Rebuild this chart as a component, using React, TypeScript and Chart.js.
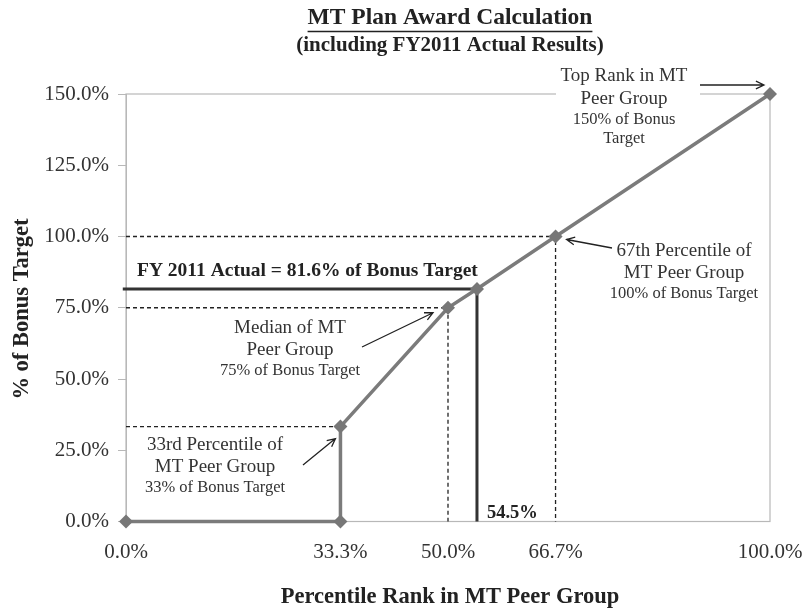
import React, { useEffect, useRef } from "react";
import { Chart, registerables } from "chart.js";

Chart.register(...registerables);

// ---- data ----
const percentileRank = [0, 33.3, 33.3, 50, 54.5, 66.7, 100];
const bonusPct = [0, 0, 33.3, 75, 81.6, 100, 150];
const xTickValues = [0, 33.3, 50, 66.7, 100];
const yTickValues = [0, 25, 50, 75, 100, 125, 150];
const actualRank = 54.5;
const actualPct = 81.6;
const medianRank = 50;
const medianPct = 75;
const p67Rank = 66.7;
const p67Pct = 100;
const p33Rank = 33.3;
const p33Pct = 33.3;

const titleText = "MT Plan Award Calculation";
const subtitleText = "(including FY2011 Actual Results)";
const yTitle = "% of Bonus Target";
const xTitle = "Percentile Rank in MT Peer Group";
const actualLabel = "FY 2011 Actual = 81.6% of Bonus Target";
const actualRankLabel = "54.5%";
const topLabel = ["Top Rank in MT", "Peer Group"];
const topSub = ["150% of Bonus", "Target"];
const p67Label = ["67th Percentile of", "MT Peer Group"];
const p67Sub = ["100% of Bonus Target"];
const medLabel = ["Median of MT", "Peer Group"];
const medSub = ["75% of Bonus Target"];
const p33Label = ["33rd Percentile of", "MT Peer Group"];
const p33Sub = ["33% of Bonus Target"];

const SERIF = '"Liberation Serif", "Times New Roman", serif';

function arrow(ctx: CanvasRenderingContext2D, x1: number, y1: number, x2: number, y2: number) {
  const a = Math.atan2(y2 - y1, x2 - x1);
  const h = 9;
  ctx.save();
  ctx.strokeStyle = "#222";
  ctx.lineWidth = 1.3;
  ctx.beginPath();
  ctx.moveTo(x1, y1);
  ctx.lineTo(x2, y2);
  ctx.moveTo(x2 - h * Math.cos(a - 0.45), y2 - h * Math.sin(a - 0.45));
  ctx.lineTo(x2, y2);
  ctx.lineTo(x2 - h * Math.cos(a + 0.45), y2 - h * Math.sin(a + 0.45));
  ctx.stroke();
  ctx.restore();
}

function lines(
  ctx: CanvasRenderingContext2D,
  cx: number,
  y: number,
  big: string[],
  small: string[],
  bigGap = 22,
  smallGap = 19
) {
  ctx.textAlign = "center";
  ctx.textBaseline = "middle";
  ctx.fillStyle = "#333";
  let yy = y;
  ctx.font = `19px ${SERIF}`;
  big.forEach((t) => {
    ctx.fillText(t, cx, yy);
    yy += bigGap;
  });
  yy -= bigGap - 21;
  ctx.font = `16.5px ${SERIF}`;
  small.forEach((t) => {
    ctx.fillText(t, cx, yy);
    yy += smallGap;
  });
}

const borderPlugin = {
  id: "borderPlugin",
  beforeDatasetsDraw(chart: any) {
    const { ctx, chartArea: a } = chart;
    ctx.save();
    ctx.strokeStyle = "#b8b8b8";
    ctx.lineWidth = 1.2;
    ctx.strokeRect(a.left, a.top, a.right - a.left, a.bottom - a.top);
    ctx.restore();
  },
};

const annotPlugin = {
  id: "annotPlugin",
  afterDraw(chart: any) {
    const { ctx } = chart;
    const xs = chart.scales.x;
    const ys = chart.scales.y;
    const px = (v: number) => xs.getPixelForValue(v);
    const py = (v: number) => ys.getPixelForValue(v);
    ctx.save();

    // Titles
    ctx.fillStyle = "#222";
    ctx.textAlign = "center";
    ctx.textBaseline = "middle";
    ctx.font = `bold 23.5px ${SERIF}`;
    ctx.fillText(titleText, 450, 18);
    const tw = ctx.measureText(titleText).width;
    ctx.strokeStyle = "#222";
    ctx.lineWidth = 1.6;
    ctx.beginPath();
    ctx.moveTo(450 - tw / 2, 31.5);
    ctx.lineTo(450 + tw / 2, 31.5);
    ctx.stroke();
    ctx.font = `bold 21px ${SERIF}`;
    ctx.fillText(subtitleText, 450, 46);

    // Axis titles
    ctx.font = `bold 22.5px ${SERIF}`;
    ctx.fillText(xTitle, 450, 597);
    ctx.save();
    ctx.translate(22, 309);
    ctx.rotate(-Math.PI / 2);
    ctx.fillText(yTitle, 0, 0);
    ctx.restore();

    // Top rank label with white background over border
    ctx.fillStyle = "#fff";
    ctx.fillRect(556, 88, 144, 14);
    lines(ctx, 624, 76, topLabel, topSub, 23, 19);
    arrow(ctx, 700, 85, px(100) - 6, py(150) - 9);

    // 67th percentile
    lines(ctx, 684, 251, p67Label, p67Sub);
    arrow(ctx, 612, 248, px(p67Rank) + 11, py(p67Pct) + 3);

    // Median
    lines(ctx, 290, 328, medLabel, medSub);
    arrow(ctx, 362, 347, px(medianRank) - 15, py(medianPct) + 5);

    // 33rd
    lines(ctx, 215, 445, p33Label, p33Sub);
    arrow(ctx, 303, 465, px(p33Rank) - 5, py(p33Pct) + 12);

    // Actual labels
    ctx.fillStyle = "#222";
    ctx.textAlign = "left";
    ctx.font = `bold 19.5px ${SERIF}`;
    ctx.fillText(actualLabel, 137, 271);
    ctx.font = `bold 18.5px ${SERIF}`;
    ctx.fillText(actualRankLabel, px(actualRank) + 10, 513);

    ctx.restore();
  },
};

export default function App() {
  const ref = useRef<HTMLCanvasElement | null>(null);
  useEffect(() => {
    if (!ref.current) return;
    const dashed = (pts: { x: number; y: number }[]) => ({
      data: pts,
      showLine: true,
      borderColor: "#222",
      borderWidth: 1.3,
      borderDash: [4, 3],
      pointRadius: 0,
      clip: false as any,
    });
    const chart = new Chart(ref.current, {
      type: "scatter",
      data: {
        datasets: [
          {
            data: percentileRank.map((x, i) => ({ x, y: bonusPct[i] })),
            showLine: true,
            borderColor: "#7b7b7b",
            borderWidth: 3.5,
            pointStyle: "rectRot",
            pointRadius: 7,
            pointBackgroundColor: "#777",
            pointBorderColor: "#777",
            pointBorderWidth: 0,
            clip: false as any,
          },
          {
            data: [
              { x: -0.5, y: actualPct },
              { x: actualRank, y: actualPct },
              { x: actualRank, y: 0 },
            ],
            showLine: true,
            borderColor: "#333",
            borderWidth: 3,
            pointRadius: 0,
            clip: false as any,
          },
          dashed([
            { x: 0, y: p67Pct },
            { x: p67Rank, y: p67Pct },
            { x: p67Rank, y: 0 },
          ]),
          dashed([
            { x: 0, y: medianPct },
            { x: medianRank, y: medianPct },
            { x: medianRank, y: 0 },
          ]),
          dashed([
            { x: 0, y: p33Pct },
            { x: p33Rank, y: p33Pct },
          ]),
        ],
      },
      options: {
        animation: false,
        responsive: false,
        maintainAspectRatio: false,
        layout: { padding: { top: 94, right: 33, left: 0, bottom: 0 } },
        plugins: {
          legend: { display: false },
          tooltip: { enabled: false },
          title: { display: false },
        },
        scales: {
          x: {
            type: "linear",
            min: 0,
            max: 100,
            afterBuildTicks: (s: any) => {
              s.ticks = xTickValues.map((v) => ({ value: v }));
            },
            afterFit: (s: any) => {
              s.height = 90.5;
              s.paddingLeft = 0;
              s.paddingRight = 0;
            },
            grid: { display: false, drawTicks: false },
            border: { display: false },
            ticks: {
              autoSkip: false,
              maxRotation: 0,
              padding: 18,
              color: "#333",
              font: { family: SERIF, size: 21 },
              callback: (v: any) => Number(v).toFixed(1) + "%",
            },
          },
          y: {
            type: "linear",
            min: 0,
            max: 150,
            afterBuildTicks: (s: any) => {
              s.ticks = yTickValues.map((v) => ({ value: v }));
            },
            afterFit: (s: any) => {
              s.width = 126;
              s.paddingTop = 0;
              s.paddingBottom = 0;
            },
            grid: { drawOnChartArea: false, drawTicks: true, tickLength: 8, color: "#b8b8b8" },
            border: { display: true, color: "#b8b8b8" },
            ticks: {
              padding: 9,
              color: "#333",
              font: { family: SERIF, size: 21 },
              callback: (v: any) => Number(v).toFixed(1) + "%",
            },
          },
        },
      } as any,
      plugins: [borderPlugin, annotPlugin],
    });
    return () => chart.destroy();
  }, []);
  return (
    <div style={{ position: "absolute", left: 0, top: 0, width: 803, height: 612, background: "#fff" }}>
      <canvas ref={ref} width={803} height={612} style={{ width: 803, height: 612 }} />
    </div>
  );
}
